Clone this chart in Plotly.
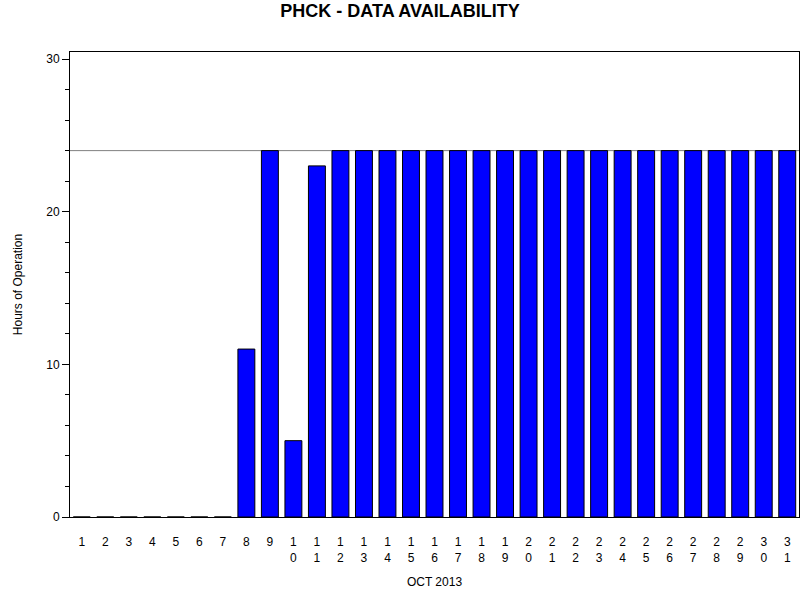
import plotly.graph_objects as go

days = list(range(1, 32))
hours = [0, 0, 0, 0, 0, 0, 0, 11, 24, 5, 23] + [24] * 20
tick_labels = [str(d) if d < 10 else "<br>".join(str(d)) for d in days]
ref_hours = 24
y_ticks = [0, 10, 20, 30]

fig = go.Figure()
fig.add_trace(go.Bar(
    x=days, y=hours, width=0.72,
    marker=dict(color="#0000FF", line=dict(color="black", width=1)),
    showlegend=False,
))
fig.add_shape(type="line", xref="paper", x0=0, x1=1, yref="y", y0=ref_hours, y1=ref_hours,
              line=dict(color="#808080", width=1), layer="below")

font = "Liberation Sans, Arial, sans-serif"
fig.update_layout(
    width=800, height=600,
    margin=dict(l=70, r=1, t=52, b=83),
    paper_bgcolor="white", plot_bgcolor="white",
    font=dict(family=font, size=12, color="black"),
    title=dict(text="<b>PHCK - DATA AVAILABILITY</b>", x=0.5, xanchor="center",
               y=0.982, yanchor="middle", font=dict(size=18, family=font, color="black")),
)
fig.update_xaxes(
    range=[0.5, 31.5], tickmode="array", tickvals=days, ticktext=tick_labels,
    ticks="", showgrid=False, zeroline=False, automargin=False,
    showline=True, linecolor="black", linewidth=1, mirror=True,
    ticklabelstandoff=14, tickfont=dict(size=12),
    title=dict(text="OCT 2013", font=dict(size=12), standoff=13),
)
fig.update_yaxes(
    range=[0, 30.46], tickmode="array", tickvals=y_ticks, automargin=False,
    ticks="outside", ticklen=7, tickcolor="black", tickwidth=1,
    minor=dict(ticks="outside", ticklen=4, dtick=2, tickcolor="black", tickwidth=1, showgrid=False),
    showgrid=False, zeroline=False,
    showline=True, linecolor="black", linewidth=1, mirror=True,
    tickfont=dict(size=12),
    title=dict(text="Hours of Operation", font=dict(size=12), standoff=21),
)
fig.write_html("out.html", config={"displayModeBar": False},
               post_script="document.body.style.margin='0';document.body.style.padding='0';")
